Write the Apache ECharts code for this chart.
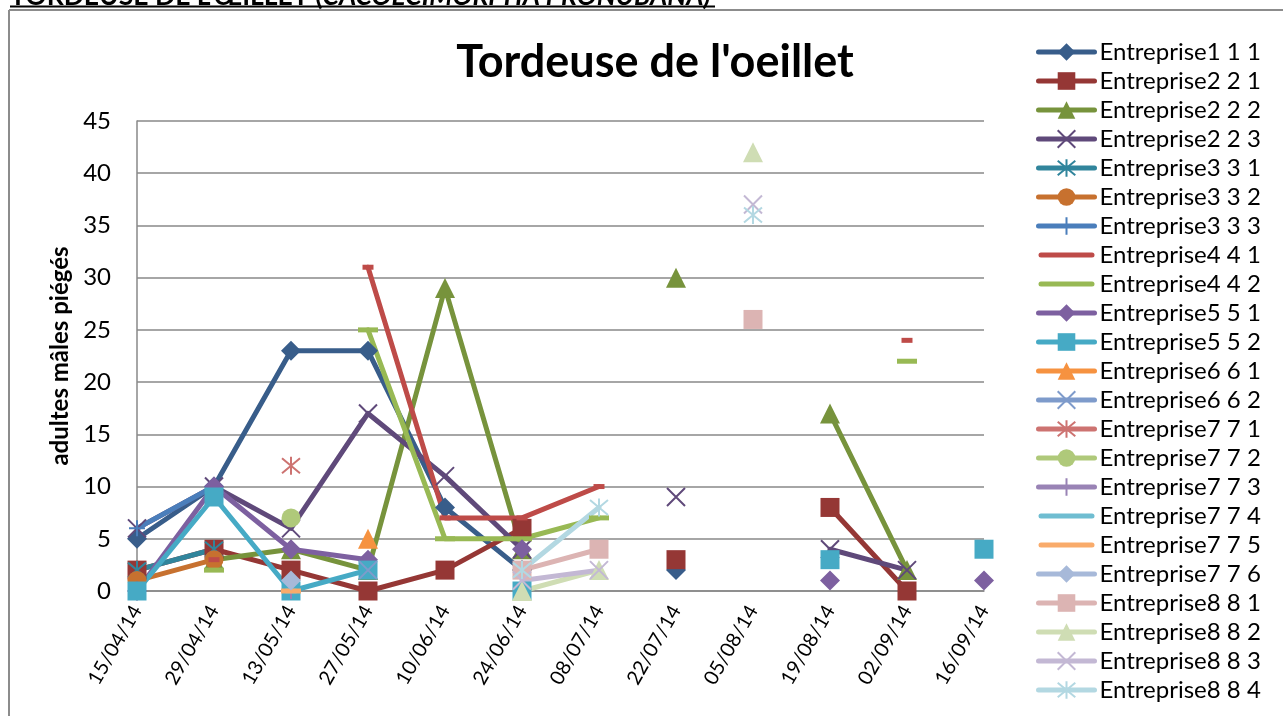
<!DOCTYPE html>
<html>
<head>
<meta charset="utf-8">
<script src="https://cdn.jsdelivr.net/npm/echarts@6/dist/echarts.min.js"></script>
<style>
  html, body { margin: 0; padding: 0; background: #fff; }
  #chart { width: 1283px; height: 716px; }
</style>
</head>
<body>
<div id="chart"></div>
<script>
  // dates (axe des X)
  const categories = ['15/04/14', '29/04/14', '13/05/14', '27/05/14', '10/06/14', '24/06/14',
    '08/07/14', '22/07/14', '05/08/14', '19/08/14', '02/09/14', '16/09/14'];
  const yTicks = [0, 5, 10, 15, 20, 25, 30, 35, 40, 45];

  // valeurs par série (null = pas de relevé)
  const e111 = [5, 10, 23, 23, 8, 2, null, 2, null, null, null, null];
  const e221 = [2, 4, 2, 0, 2, 6, null, 3, null, 8, 0, null];
  const e222 = [null, 3, 4, 2, 29, 4, null, 30, null, 17, 2, null];
  const e223 = [6, 10, 6, 17, 11, 4, null, 9, null, 4, 2, null];
  const e331 = [2, 4, null, null, null, null, null, null, null, null, null, null];
  const e332 = [1, 3, null, null, null, null, null, null, null, null, null, null];
  const e333 = [6, 10, null, null, null, null, null, null, null, null, null, null];
  const e441 = [null, 3, null, 31, 7, 7, 10, null, null, null, 24, null];
  const e442 = [null, 2, null, 25, 5, 5, 7, null, null, null, 22, null];
  const e551 = [0, 10, 4, 3, null, 4, null, null, null, 1, null, 1];
  const e552 = [0, 9, 0, 2, null, 0, null, null, null, 3, null, 4];
  const e661 = [null, null, null, 5, null, null, null, null, null, null, null, null];
  const e662 = [null, null, null, 2, null, null, null, null, null, null, null, null];
  const e771 = [null, null, 12, null, null, null, null, null, null, null, null, null];
  const e772 = [null, null, 7, null, null, null, null, null, null, null, null, null];
  const e773 = [null, null, 0, null, null, null, null, null, null, null, null, null];
  const e774 = [null, null, 0, null, null, null, null, null, null, null, null, null];
  const e775 = [null, null, 0, null, null, null, null, null, null, null, null, null];
  const e776 = [null, null, 1, null, null, null, null, null, null, null, null, null];
  const e881 = [null, null, null, null, null, 2, 4, null, 26, null, null, null];
  const e882 = [null, null, null, null, null, 0, 2, null, 42, null, null, null];
  const e883 = [null, null, null, null, null, 1, 2, null, 37, null, null, null];
  const e884 = [null, null, null, null, null, 2, 8, null, 36, null, null, null];

  // marqueurs façon Excel
  const markers = {
    diamond: { symbol: 'diamond', size: 20, stroke: 0 },
    square: { symbol: 'rect', size: 19, stroke: 0 },
    triangle: { symbol: 'triangle', size: 20, stroke: 0 },
    x: { symbol: 'path://M0,0L10,10M10,0L0,10', size: 18, stroke: 2 },
    star: { symbol: 'path://M0,0L10,10M10,0L0,10M5,-1L5,11', size: 18, stroke: 2 },
    circle: { symbol: 'circle', size: 19, stroke: 0 },
    plus: { symbol: 'path://M5,0L5,10M0,5L10,5', size: 16, stroke: 2 },
    dash: { symbol: 'rect', size: [11, 5], stroke: 0 },
    longdash: { symbol: 'rect', size: [20, 5], stroke: 0 },
  };

  const seriesDefs = [
    ['Entreprise1 1 1', e111, '#385D8A', 'diamond'],
    ['Entreprise2 2 1', e221, '#953735', 'square'],
    ['Entreprise2 2 2', e222, '#77933C', 'triangle'],
    ['Entreprise2 2 3', e223, '#5F497A', 'x'],
    ['Entreprise3 3 1', e331, '#31859C', 'star'],
    ['Entreprise3 3 2', e332, '#C7712F', 'circle'],
    ['Entreprise3 3 3', e333, '#4A7EBB', 'plus'],
    ['Entreprise4 4 1', e441, '#BE4B48', 'dash'],
    ['Entreprise4 4 2', e442, '#98B954', 'longdash'],
    ['Entreprise5 5 1', e551, '#7D60A0', 'diamond'],
    ['Entreprise5 5 2', e552, '#46AAC5', 'square'],
    ['Entreprise6 6 1', e661, '#F69240', 'triangle'],
    ['Entreprise6 6 2', e662, '#7E9BCB', 'x'],
    ['Entreprise7 7 1', e771, '#CD7371', 'star'],
    ['Entreprise7 7 2', e772, '#AFC97A', 'circle'],
    ['Entreprise7 7 3', e773, '#9983B5', 'plus'],
    ['Entreprise7 7 4', e774, '#6FBDD1', 'dash'],
    ['Entreprise7 7 5', e775, '#F9AB6B', 'longdash'],
    ['Entreprise7 7 6', e776, '#A7B9D9', 'diamond'],
    ['Entreprise8 8 1', e881, '#DCB4B3', 'square'],
    ['Entreprise8 8 2', e882, '#CFDDB4', 'triangle'],
    ['Entreprise8 8 3', e883, '#C3B8D4', 'x'],
    ['Entreprise8 8 4', e884, '#B3D8E2', 'star'],
  ];

  const font = 'Lato, "Open Sans", sans-serif';
  const gridColor = '#888888';
  // icône de légende "trait seul" pour les marqueurs tiret
  const plainLineIcon = 'path://M2.5,0L53.5,0A2.5,2.5 0 0 1 53.5,5L2.5,5A2.5,2.5 0 0 1 2.5,0Z';

  const chart = echarts.init(document.getElementById('chart'), null, { renderer: 'canvas' });

  const series = seriesDefs.map(([name, data, color, mk]) => {
    const m = markers[mk];
    return {
      name: name,
      type: 'line',
      data: data,
      color: color,
      symbol: m.symbol,
      symbolSize: m.size,
      showSymbol: true,
      showAllSymbol: true,
      connectNulls: false,
      lineStyle: { color: color, width: 5, join: 'round', cap: 'round' },
      itemStyle: { color: color, borderColor: color, borderWidth: m.stroke },
      emphasis: { disabled: true },
    };
  });

  const legendData = seriesDefs.map(d => {
    if (d[3] === 'dash' || d[3] === 'longdash') {
      return { name: d[0], icon: plainLineIcon };
    }
    return { name: d[0] };
  });

  const option = {
    animation: false,
    backgroundColor: '#fff',
    textStyle: { fontFamily: font },
    title: {
      text: "Tordeuse de l'oeillet",
      left: 650,
      textAlign: 'center',
      top: 35,
      textStyle: { fontFamily: font, fontSize: 45, fontWeight: 'bold', color: '#000' },
    },
    grid: { left: 137, right: 299, top: 121, bottom: 125 },
    xAxis: {
      type: 'category',
      data: categories,
      boundaryGap: false,
      axisLine: { show: true, lineStyle: { color: gridColor, width: 1.5 } },
      axisTick: { show: false },
      axisLabel: { interval: 0, rotate: 60, fontSize: 20, color: '#000', margin: 16, fontFamily: font },
      splitLine: { show: false },
    },
    yAxis: {
      type: 'value',
      min: yTicks[0],
      max: yTicks[yTicks.length - 1],
      interval: 5,
      name: 'adultes mâles piégés',
      nameLocation: 'middle',
      nameGap: 63,
      nameTextStyle: { fontSize: 24, fontWeight: 'bold', color: '#000', fontFamily: font },
      axisLine: { show: true, lineStyle: { color: gridColor, width: 1.5 } },
      axisTick: { show: false },
      axisLabel: { fontSize: 24, color: '#000', margin: 26, fontFamily: font },
      splitLine: { show: true, lineStyle: { color: gridColor, width: 1.5 } },
    },
    legend: {
      orient: 'vertical',
      left: 1036,
      top: 40,
      padding: 0,
      itemWidth: 56,
      itemHeight: 22,
      itemGap: 5,
      lineStyle: { width: 5, cap: 'round' },
      textStyle: { fontSize: 24, lineHeight: 24, color: '#000', fontFamily: font },
      data: legendData,
    },
    graphic: [
      // cadre du graphique
      { type: 'line', shape: { x1: 9, y1: 10, x2: 1283, y2: 10 }, style: { stroke: '#8c8c8c', lineWidth: 2 } },
      { type: 'line', shape: { x1: 9, y1: 10, x2: 9, y2: 716 }, style: { stroke: '#8c8c8c', lineWidth: 2 } },
      // titre de la page, coupé en haut
      {
        type: 'text', left: 10, top: -17,
        style: {
          text: "{a|TORDEUSE DE L'ŒILLET (}{b|CACOECIMORPHA PRONUBANA)}",
          rich: {
            a: { fontFamily: font, fontWeight: 'bold', fontSize: 26.5, fill: '#000' },
            b: { fontFamily: font, fontWeight: 'bold', fontStyle: 'italic', fontSize: 26.5, fill: '#000' },
          },
        },
      },
      { type: 'line', shape: { x1: 10, y1: 6.5, x2: 715, y2: 6.5 }, style: { stroke: '#000', lineWidth: 2 } },
    ],
    series: series,
  };

  chart.setOption(option);
</script>
</body>
</html>
